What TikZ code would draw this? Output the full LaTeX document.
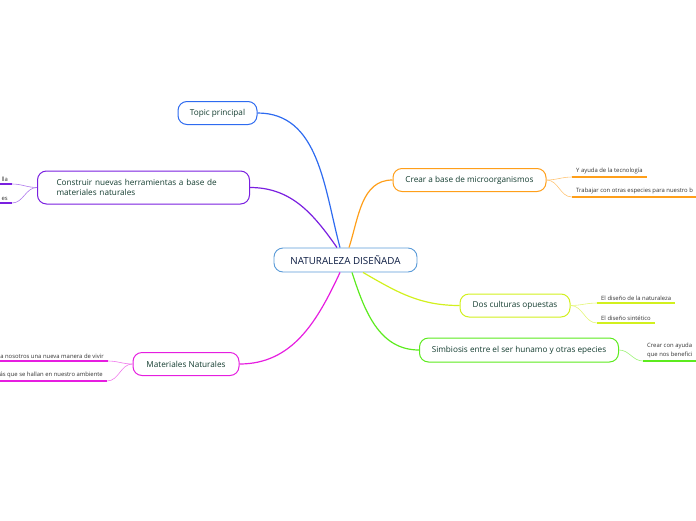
\documentclass[tikz,border=0pt]{standalone}
\usepackage{fontspec}
\setmainfont{Open Sans}
\usetikzlibrary{positioning}
\definecolor{cblue}{HTML}{2E6BF0}
\definecolor{cpurple}{HTML}{7A1FE0}
\definecolor{cmagenta}{HTML}{E61EE0}
\definecolor{corange}{HTML}{FF9F1A}
\definecolor{cyellow}{HTML}{D2F01E}
\definecolor{cgreen}{HTML}{5CEB1E}
\definecolor{ccentre}{HTML}{5A9BD8}
\definecolor{boxtext}{HTML}{143D30}
\definecolor{navytext}{HTML}{0A1A40}
\definecolor{leaftext}{HTML}{333333}
\tikzset{
  topic/.style={
    draw,
    fill=white,
    rounded corners=9pt,
    line width=1pt,
    text=boxtext,
    font=\fontsize{8.2}{10.5}\selectfont,
    minimum height=23pt,
    inner xsep=0pt
  },
  central/.style={
    topic,
    draw=ccentre,
    line width=0.9pt,
    text=navytext,
    font=\fontsize{9.8}{11}\selectfont
  },
  leaf/.style={
    font=\fontsize{5.9}{9.5}\selectfont,
    text=leaftext,
    inner xsep=4pt,
    inner ysep=2.5pt
  },
}
\tikzset{
  branch/.style={line width=1.2pt},
  twig/.style={line width=0.6pt},
  uline/.style={line width=1.3pt},
}
\begin{document}
\begin{tikzpicture}[x=1pt,y=1pt]
  \useasboundingbox (0,0) rectangle (696,-520);
  % main topics
  \node[central, minimum width=143pt, minimum height=24pt] (nd) at (345.5,-260) {NATURALEZA DISEÑADA};
  \node[topic, draw=cblue, minimum width=79pt] (topic) at (217.5,-113) {Topic principal};
  \node[topic, draw=cpurple, minimum height=33pt, text width=174pt, align=left, inner xsep=19pt] (tools) at (143.5,-187.5) {Construir nuevas herramientas a base de\\materiales naturales};
  \node[topic, draw=cmagenta, minimum width=106pt] (mat) at (186,-364) {Materiales Naturales};
  \node[topic, draw=corange, minimum width=153pt] (micro) at (469.5,-180) {Crear a base de microorganismos};
  \node[topic, draw=cyellow, minimum width=110pt] (cult) at (515,-305.5) {Dos culturas opuestas};
  \node[topic, draw=cgreen, minimum width=199pt, minimum height=24pt] (simb) at (519,-350) {Simbiosis entre el ser hunamo y otras epecies};
  % leaves
  \node[leaf, anchor=south west] (tec) at (572,-177) {Y ayuda de la tecnología};
  \node[leaf, anchor=south west] (esp) at (572,-197) {Trabajar con otras especies para nuestro b};
  \node[leaf, anchor=south west] (nat) at (597,-303) {El diseño de la naturaleza};
  \node[leaf, anchor=south west] (sint) at (597,-323) {El diseño sintético};
  \node[leaf, anchor=south west, align=left] (ayuda) at (643,-361) {Crear con ayuda\\que nos benefici};
  \node[leaf, anchor=south east] (lla) at (12,-184) {lla};
  \node[leaf, anchor=south east] (es) at (12,-203) {es};
  \node[leaf, anchor=south east] (vivir) at (108,-361) {a nosotros una nueva manera de vivir};
  \node[leaf, anchor=south east] (amb) at (107,-381) {ás que se hallan en nuestro ambiente};
  % branches
  \draw[branch, cblue] ([xshift=-5.5pt]nd.north) to[out=105,in=0] (topic.east);
  \draw[branch, cpurple] ([xshift=-8.5pt]nd.north) to[out=125,in=0] (tools.east);
  \draw[branch, corange] ([xshift=3.5pt]nd.north) to[out=72,in=180] (micro.west);
  \draw[branch, cmagenta] ([xshift=-5.5pt]nd.south) to[out=-115,in=0] (mat.east);
  \draw[branch, cgreen] ([xshift=6.5pt]nd.south) to[out=-72,in=180] (simb.west);
  \draw[branch, cyellow] ([xshift=17.5pt]nd.south) to[out=-30,in=180] (cult.west);
  % twigs and underlines
  \foreach \b/\n/\c in {micro/tec/corange, micro/esp/corange, cult/nat/cyellow, cult/sint/cyellow, simb/ayuda/cgreen}{
    \draw[twig, \c!60] (\b.east) to[out=0,in=180] (\n.south west);
    \draw[uline, \c] (\n.south west) -- (\n.south east);}
  \foreach \b/\n/\c in {tools/lla/cpurple, tools/es/cpurple, mat/vivir/cmagenta, mat/amb/cmagenta}{
    \draw[twig, \c!60] (\b.west) to[out=180,in=0] (\n.south east);
    \draw[uline, \c] (\n.south west) -- (\n.south east);}
\end{tikzpicture}
\end{document}
